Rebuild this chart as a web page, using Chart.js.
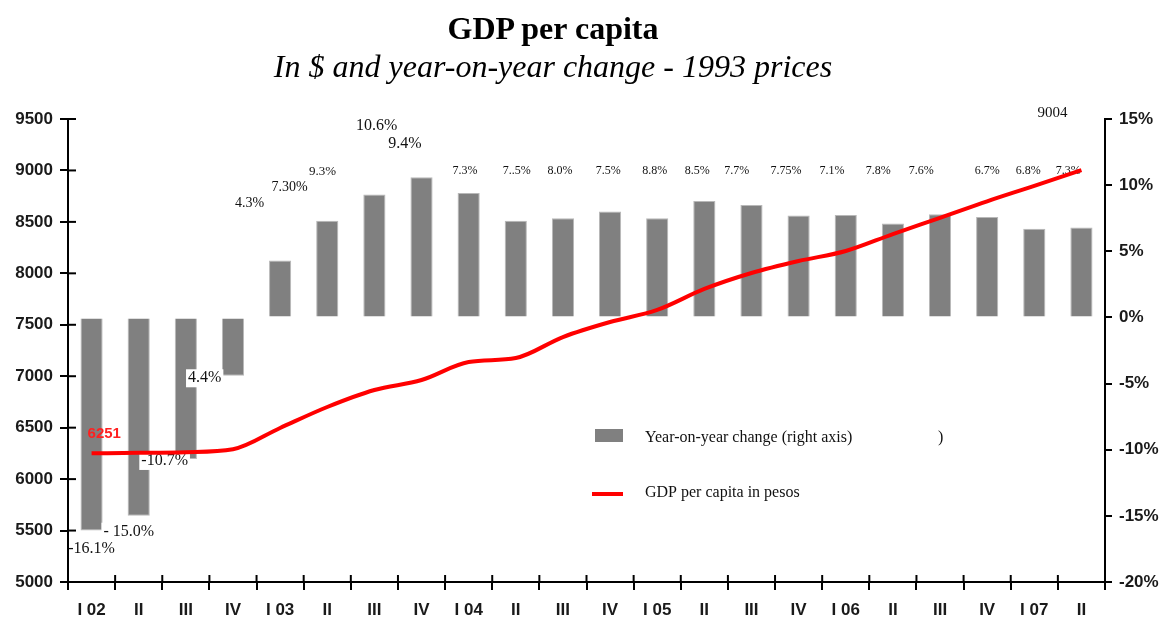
<!DOCTYPE html>
<html>
<head>
<meta charset="utf-8">
<title>GDP per capita</title>
<script src="https://cdn.jsdelivr.net/npm/chart.js@4.4.1/dist/chart.umd.min.js"></script>
<style>
  body { margin: 0; background: #fff; }
  .wrap { position: relative; width: 1163px; height: 619px; }
  .title {
    position: absolute; left: 0; width: 1106px; text-align: center;
    font-family: "Liberation Serif", "Times New Roman", serif; color: #000;
  }
  #t1 { top: 10px; font-size: 32px; font-weight: bold; }
  #t2 { top: 48px; font-size: 32px; font-style: italic; }
  canvas { position: absolute; left: 0; top: 0; }
</style>
</head>
<body>
<div class="wrap">
  <canvas id="gdpChart" width="1163" height="619"></canvas>
  <div class="title" id="t1">GDP per capita</div>
  <div class="title" id="t2">In $ and year-on-year change - 1993 prices</div>
</div>
<script>
// quarters 2002 - 2007
const quarters = ['I 02', 'II', 'III', 'IV', 'I 03', 'II', 'III', 'IV', 'I 04', 'II', 'III', 'IV',
                  'I 05', 'II', 'III', 'IV', 'I 06', 'II', 'III', 'IV', 'I 07', 'II'];

// year-on-year change, % (right axis)
const yoyChange = [-16.1, -15.0, -10.7, -4.4, 4.3, 7.3, 9.3, 10.6, 9.4, 7.3, 7.5, 8.0,
                   7.5, 8.8, 8.5, 7.7, 7.75, 7.1, 7.8, 7.6, 6.7, 6.8];

// GDP per capita in pesos (left axis)
const gdpPerCapita = [6251, 6255, 6262, 6290, 6497, 6701, 6866, 6963, 7138, 7177, 7381, 7527,
                      7644, 7848, 8003, 8120, 8217, 8382, 8540, 8700, 8850, 9004];

const leftTicks = [5000, 5500, 6000, 6500, 7000, 7500, 8000, 8500, 9000, 9500];
const rightTicks = [-20, -15, -10, -5, 0, 5, 10, 15];

// change labels as printed on the chart
const changeText = ['-16.1%', '- 15.0%', '-10.7%', '4.4%', '4.3%', '7.30%', '9.3%', '10.6%', '9.4%',
                    '7.3%', '7..5%', '8.0%', '7.5%', '8.8%', '8.5%', '7.7%', '7.75%', '7.1%',
                    '7.8%', '7.6%', '6.7%', '6.8%', '7.3%'];

// where the labels sit: category slot and level on the right axis
const textSlot = [0, 0.79, 1.55, 2.4, 3.35, 4.2, 4.9, 6.05, 6.65, 7.92, 9.02, 9.94, 10.96,
                  11.95, 12.85, 13.69, 14.73, 15.71, 16.69, 17.6, 19.0, 19.87, 20.72];
const textLevel = [-17.5, -16.2, -10.85, -4.6, 8.65, 9.85, 11.05, 14.5, 13.1];
const textSize = [16, 16, 16, 16, 14, 14, 13, 16, 16];

const SERIF = '"Liberation Serif", "Times New Roman", serif';
const SANS = '"Liberation Sans", Arial, sans-serif';

// year-on-year labels, drawn after the bars and before the line
const barLabels = {
  id: 'barLabels',
  afterDatasetDraw(chart, args) {
    if (args.index !== 0) return;
    const ctx = chart.ctx;
    const x = chart.scales.x;
    const y1 = chart.scales.y1;
    const left = chart.chartArea.left + 2;
    ctx.save();
    ctx.textAlign = 'center';
    ctx.textBaseline = 'middle';
    changeText.forEach((txt, i) => {
      const size = textSize[i] || 12;
      const level = textLevel[i] !== undefined ? textLevel[i] : 11.05;
      const px = x.getPixelForValue(textSlot[i]);
      const py = y1.getPixelForValue(level);
      ctx.font = size + 'px ' + SERIF;
      if (level < 0) {
        const w = ctx.measureText(txt).width;
        const x0 = Math.max(left, px - w / 2 - 2);
        ctx.fillStyle = '#fff';
        ctx.fillRect(x0, py - size / 2 - 1, px + w / 2 + 2 - x0, size + 2);
      }
      ctx.fillStyle = '#111';
      ctx.fillText(txt, px, py);
    });
    ctx.restore();
  }
};

// value labels, legend and the inner half of the axis ticks
const annotations = {
  id: 'annotations',
  afterDatasetsDraw(chart) {
    const ctx = chart.ctx;
    const x = chart.scales.x;
    const y = chart.scales.y;
    const area = chart.chartArea;
    ctx.save();

    ctx.strokeStyle = '#000';
    ctx.lineWidth = 2;
    leftTicks.forEach(v => {
      const py = y.getPixelForValue(v);
      ctx.beginPath();
      ctx.moveTo(area.left, py);
      ctx.lineTo(area.left + 8, py);
      ctx.stroke();
    });
    for (let i = 0; i <= quarters.length; i++) {
      const px = x.getPixelForValue(i - 0.5);
      ctx.beginPath();
      ctx.moveTo(px, area.bottom);
      ctx.lineTo(px, area.bottom - 7);
      ctx.stroke();
    }

    const first = chart.getDatasetMeta(1).data[0];
    const last = chart.getDatasetMeta(1).data[gdpPerCapita.length - 1];
    ctx.textBaseline = 'middle';
    ctx.fillStyle = '#ff2020';
    ctx.font = 'bold 15px ' + SANS;
    ctx.textAlign = 'left';
    ctx.fillText(String(gdpPerCapita[0]), first.x - 4, first.y - 19);
    ctx.fillStyle = '#111';
    ctx.font = '15px ' + SERIF;
    ctx.textAlign = 'center';
    ctx.fillText(String(gdpPerCapita[gdpPerCapita.length - 1]), last.x - 29, last.y - 57);

    // legend
    ctx.fillStyle = '#808080';
    ctx.fillRect(595, 429, 28, 13);
    ctx.strokeStyle = '#ff0000';
    ctx.lineWidth = 4;
    ctx.beginPath();
    ctx.moveTo(592, 494);
    ctx.lineTo(623, 494);
    ctx.stroke();
    ctx.fillStyle = '#111';
    ctx.font = '16px ' + SERIF;
    ctx.textAlign = 'left';
    ctx.fillText('Year-on-year change (right axis)', 645, 438);
    ctx.fillText(')', 938, 438);
    ctx.fillText('GDP per capita in pesos', 645, 493);

    ctx.restore();
  }
};

function axisGrid(len) {
  return { drawOnChartArea: false, drawTicks: true, tickLength: len, color: '#000', lineWidth: 2 };
}

const tickFont = { family: SANS, size: 17, weight: 'bold' };

new Chart(document.getElementById('gdpChart').getContext('2d'), {
  data: {
    labels: quarters,
    datasets: [{
      type: 'bar',
      label: 'Year-on-year change (right axis)',
      data: yoyChange,
      yAxisID: 'y1',
      backgroundColor: '#808080',
      borderColor: '#b8b8b8',
      borderWidth: 1,
      barPercentage: 0.47,
      categoryPercentage: 1,
      order: 2
    }, {
      type: 'line',
      label: 'GDP per capita in pesos',
      data: gdpPerCapita,
      yAxisID: 'y',
      borderColor: '#ff0000',
      borderWidth: 4,
      pointRadius: 0,
      tension: 0.4,
      cubicInterpolationMode: 'monotone',
      order: 1
    }]
  },
  options: {
    responsive: false,
    animation: false,
    layout: { padding: { top: 119, left: 0, right: 0, bottom: 0 } },
    plugins: {
      legend: { display: false },
      tooltip: { enabled: false }
    },
    scales: {
      x: {
        grid: axisGrid(8),
        border: { color: '#000', width: 2 },
        ticks: { color: '#1a1a1a', font: tickFont, padding: 10, maxRotation: 0, autoSkip: false },
        afterFit: s => { s.height = 37; }
      },
      y: {
        position: 'left',
        min: 5000,
        max: 9500,
        afterBuildTicks: s => { s.ticks = leftTicks.map(v => ({ value: v })); },
        grid: axisGrid(8),
        border: { color: '#000', width: 2 },
        ticks: { color: '#1a1a1a', font: tickFont, padding: 7, callback: v => String(v) },
        afterFit: s => { s.width = 68; }
      },
      y1: {
        position: 'right',
        min: -20,
        max: 15,
        afterBuildTicks: s => { s.ticks = rightTicks.map(v => ({ value: v })); },
        grid: axisGrid(7),
        border: { color: '#000', width: 2 },
        ticks: { color: '#1a1a1a', font: tickFont, padding: 7, callback: v => v + '%' },
        afterFit: s => { s.width = 58; }
      }
    }
  },
  plugins: [barLabels, annotations]
});
</script>
</body>
</html>
